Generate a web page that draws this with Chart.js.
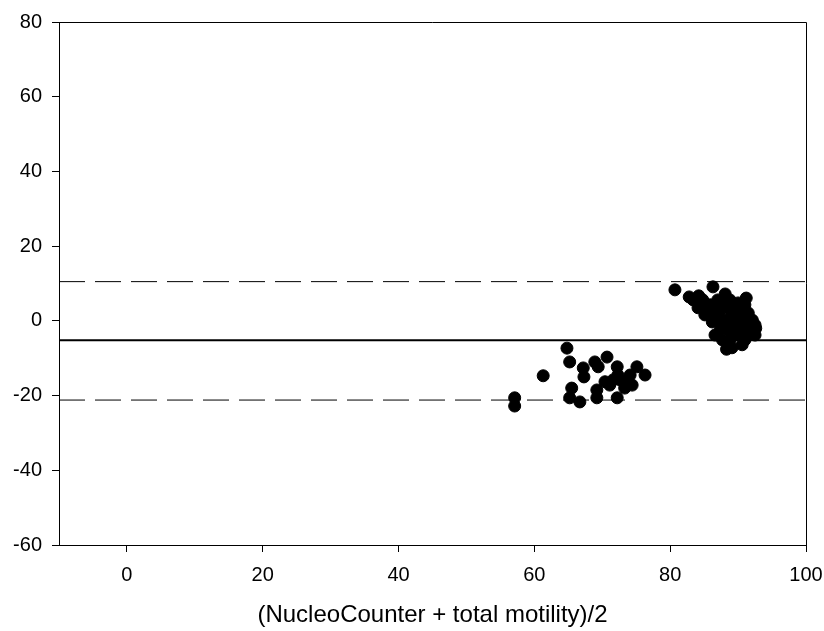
<!DOCTYPE html>
<html lang="en">
<head>
  <meta charset="UTF-8">
  <title>Bland-Altman: NucleoCounter vs total motility</title>
  <style>
    body { margin: 0; padding: 0; background: #fff; }
    .wrap { width: 824px; height: 631px; }
  </style>
</head>
<body>
  <div class="wrap"><canvas id="chart" width="824" height="631"></canvas></div>

  <script src="https://cdn.jsdelivr.net/npm/chart.js"></script>
  <script>
    // mean of the two methods (x) and their difference (y)
    const meanVals = [
      64.8, 65.2, 61.3, 57.1, 57.1, 65.5, 65.2, 66.7, 67.2, 67.3,
      68.9, 69.4, 70.7, 69.2, 69.2, 72.2, 72.3, 72.2, 71.1, 72.6,
      73.6, 74.4, 75.1, 76.3, 73.3, 71.6, 70.4, 74.1,
      80.7, 82.8, 84.2, 86.3, 88.1, 84.1, 85.1, 86.2, 87.4, 88.5,
      90.0, 91.5, 92.1, 91.0, 88.8, 90.3, 89.5, 87.0, 88.8, 88.1,
      85.9, 87.3, 91.0, 92.1, 86.6, 90.6, 91.5, 88.8, 84.8, 90.3,
      89.5, 87.7, 88.3, 92.5, 90.9,
      85.1, 86.6, 88.1, 89.1, 90.0, 91.5, 92.5, 87.7, 88.5, 90.6,
      89.1, 87.1, 91.2, 89.7, 84.4, 83.4, 92.6
    ];
    const diffVals = [
      -7.3, -11.0, -14.7, -20.6, -22.8, -18.0, -20.6, -21.7, -12.6, -15.0,
      -11.0, -12.3, -9.7, -18.5, -20.6, -12.3, -14.5, -20.6, -17.2, -15.8,
      -15.8, -17.2, -12.3, -14.5, -18.0, -15.8, -16.3, -14.5,
      8.3, 6.4, 6.7, 9.1, 7.2, 3.5, 1.6, -0.3, -2.4, -6.4,
      4.8, 2.1, -2.4, -5.1, -5.1, 0.2, -3.8, 5.6, 2.9, 0.2,
      4.3, 2.9, 4.3, 0.2, -3.8, -1.6, -0.3, 5.6, 5.6, 2.4,
      -1.1, -5.1, -7.6, -1.1, -3.5,
      4.3, 2.4, 4.3, 0.8, -2.4, -3.8, -3.8, -1.1, -2.4, -6.4,
      -7.2, 1.6, 6.1, 2.9, 6.1, 5.6, -2.0
    ];

    const meanDiff = -5.2;
    const upperLimit = 10.5;
    const lowerLimit = -21.2;
    const xRange = [-10, 100];
    const yRange = [-60, 80];
    const xTicks = [0, 20, 40, 60, 80, 100];
    const yTicks = [-60, -40, -20, 0, 20, 40, 60, 80];

    const points = meanVals.map((x, i) => ({ x: x, y: diffVals[i] }));
    const hline = v => xRange.map(x => ({ x: x, y: v }));

    const fontFamily = 'Arial, "Liberation Sans", sans-serif';

    // top and right edges of the frame
    const framePlugin = {
      id: 'frame',
      afterDraw(chart) {
        const a = chart.chartArea;
        const c = chart.ctx;
        c.save();
        c.strokeStyle = '#000';
        c.lineWidth = 1;
        c.beginPath();
        c.moveTo(a.left, a.top + 0.5);
        c.lineTo(a.right + 0.5, a.top + 0.5);
        c.lineTo(a.right + 0.5, a.bottom);
        c.stroke();
        c.restore();
      }
    };

    const lineStyle = {
      type: 'line',
      borderColor: '#000',
      borderWidth: 1,
      pointRadius: 0,
      fill: false
    };

    new Chart(document.getElementById('chart'), {
      type: 'scatter',
      data: {
        datasets: [
          Object.assign({}, lineStyle, { data: hline(meanDiff), borderWidth: 2 }),
          Object.assign({}, lineStyle, { data: hline(upperLimit), borderDash: [26, 10] }),
          Object.assign({}, lineStyle, { data: hline(lowerLimit), borderDash: [26, 10] }),
          {
            data: points,
            backgroundColor: '#000',
            borderColor: '#000',
            pointRadius: 6,
            pointHoverRadius: 6
          }
        ]
      },
      options: {
        responsive: false,
        animation: false,
        layout: { padding: { top: 22, right: 18, left: 0, bottom: 0 } },
        plugins: { legend: { display: false }, tooltip: { enabled: false } },
        scales: {
          x: {
            type: 'linear',
            min: xRange[0],
            max: xRange[1],
            afterBuildTicks: s => { s.ticks = xTicks.map(v => ({ value: v })); },
            afterFit: s => { s.height = 86; s.paddingLeft = 0; s.paddingRight = 0; },
            grid: { drawOnChartArea: false, drawTicks: true, tickLength: 7, color: '#000' },
            border: { display: true, color: '#000', width: 1 },
            ticks: { color: '#000', padding: 11, font: { family: fontFamily, size: 20 } },
            title: {
              display: true,
              text: '(NucleoCounter + total motility)/2',
              color: '#000',
              padding: { top: 0, bottom: 1 },
              font: { family: fontFamily, size: 24 }
            }
          },
          y: {
            type: 'linear',
            min: yRange[0],
            max: yRange[1],
            afterBuildTicks: s => { s.ticks = yTicks.map(v => ({ value: v })); },
            afterFit: s => { s.width = 59; s.paddingTop = 0; s.paddingBottom = 0; },
            grid: { drawOnChartArea: false, drawTicks: true, tickLength: 7, color: '#000' },
            border: { display: true, color: '#000', width: 1 },
            ticks: { color: '#000', padding: 10, font: { family: fontFamily, size: 20 } }
          }
        }
      },
      plugins: [framePlugin]
    });
  </script>
</body>
</html>
